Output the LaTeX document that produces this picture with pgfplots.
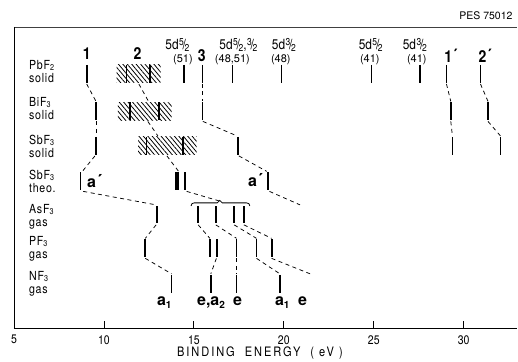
\documentclass[border=0pt]{standalone}
\usepackage{pgfplots}
\pgfplotsset{compat=1.18}
\usetikzlibrary{patterns.meta}
\usepackage{fontspec}
\setmainfont{TeX Gyre Heros}
\newfontfamily\cn[FakeStretch=0.85]{TeX Gyre Heros}
\newfontfamily\cnl[FakeStretch=0.85,LetterSpace=6]{TeX Gyre Heros}
\newfontfamily\cnw[FakeStretch=0.85,LetterSpace=15]{TeX Gyre Heros}
\newcommand{\fr}[2]{\kern0.03em\raisebox{0.6ex}{\fontsize{10}{10}\selectfont #1}\kern-0.08em{/}\kern-0.1em\raisebox{-0.3ex}{\fontsize{10}{10}\selectfont #2}}
\newcommand{\sub}[1]{\raisebox{-0.2ex}{\fontsize{8.5}{8.5}\selectfont #1}}
\newcommand{\sbb}[1]{\raisebox{-0.3ex}{\fontsize{10}{10}\selectfont #1}}
\newcommand{\pr}{\kern0.03em\raisebox{0.1ex}{´}}
\pgfplotsset{dl/.style={black, line width=0.75pt, dash pattern=on 4pt off 3.5pt},
  bars/.style={only marks, mark=|, mark size=9pt, mark options={line width=1.8pt, black}},
  hatch/.style={draw=none, pattern={Lines[angle=-50,distance=3.4pt,line width=0.8pt]}}}
\begin{document}
\begin{tikzpicture}
\begin{axis}[
  scale only axis, width=504pt, height=302pt,
  xmin=5, xmax=33, ymin=33, ymax=335,
  axis line style={draw=none},
  ytick=\empty,
  xtick={5,10,15,20,25,30},
  xtick pos=bottom,
  tick align=inside,
  major tick length=8pt,
  every tick/.style={black, line width=0.8pt},
  xticklabel style={font=\cn\fontsize{12.4}{12.4}\selectfont, yshift=-3pt},
  /pgf/number format/assume math mode=true,
  clip=false,
]
% frame
\addplot[black!75, line width=0.6pt] coordinates {(5,335) (32.98,335)};
\addplot[black, line width=0.7pt] coordinates {(5,335) (5,33)};
\addplot[black, line width=1.3pt] coordinates {(5,33) (32.98,33)};
% hatched bands
\addplot[hatch] coordinates {(10.7,279) (13.15,279) (13.15,297) (10.7,297)} -- cycle;
\addplot[hatch] coordinates {(10.78,241.5) (13.76,241.5) (13.76,259.5) (10.78,259.5)} -- cycle;
\addplot[hatch] coordinates {(11.9,207) (15.15,207) (15.15,225) (11.9,225)} -- cycle;
% bars
\addplot[bars] coordinates {(9.04,288) (11.25,288) (12.55,288) (14.44,288) (15.48,288) (17.15,288) (19.87,288) (24.87,288) (27.56,288) (29.04,288) (30.93,288)};
\addplot[bars] coordinates {(9.56,250.5) (11.44,250.5) (13.07,250.5) (15.48,250.5) (29.28,250.5) (31.35,250.5)};
\addplot[bars] coordinates {(9.56,216) (12.37,216) (14.41,216) (17.46,216) (29.37,216) (32.04,216)};
\addplot[bars] coordinates {(8.7,180.5) (14.5,180.5) (19.13,180.5)};
\addplot[only marks, mark=|, mark size=9pt, mark options={line width=4.5pt, black}] coordinates {(14.06,180.5)};
\addplot[bars, mark size=8.5pt] coordinates {(12.93,147) (15.24,147) (16.22,147) (17.24,147) (17.78,147)};
\addplot[bars] coordinates {(12.28,113.5) (15.89,113.5) (16.3,113.5) (17.37,113.5) (18.48,113.5) (19.32,113.5)};
\addplot[bars] coordinates {(13.76,78) (15.94,78) (17.37,78) (19.78,78)};
% brace
\addplot[black, line width=0.8pt] coordinates {(14.84,156) (14.9,158.3) (15.02,159) (16.3,159) (16.44,161.5) (16.58,159) (17.93,159) (18.05,158.3) (18.11,156)};
% dashed correlation lines
\addplot[dl] coordinates {(9.04,278) (9.56,260.5)};
\addplot[dl] coordinates {(9.56,240.5) (9.56,226)};
\addplot[dl] coordinates {(9.5,206) (8.8,190.5)};
\addplot[dl] coordinates {(8.85,170.5) (12.9,157)};
\addplot[dl] coordinates {(12.9,137) (12.3,123.5)};
\addplot[dl] coordinates {(12.3,103.5) (13.76,88)};
\addplot[dl] coordinates {(11.94,278) (12.48,260.5)};
\addplot[dl] coordinates {(12.44,240.5) (13.0,226)};
\addplot[dl] coordinates {(13.5,206) (14.15,190.5)};
\addplot[dl] coordinates {(14.6,170.5) (16.4,161)};
\addplot[dl] coordinates {(15.5,240.5) (17.4,226)};
\addplot[dl] coordinates {(17.5,206) (19.05,190.5)};
\addplot[dl] coordinates {(19.2,170.5) (20.9,157)};
\addplot[dl] coordinates {(15.48,278) (15.48,260.5)};
\addplot[dl] coordinates {(29.04,278) (29.28,260.5)};
\addplot[dl] coordinates {(29.28,240.5) (29.37,226)};
\addplot[dl] coordinates {(30.93,278) (31.35,260.5)};
\addplot[dl] coordinates {(31.35,240.5) (32.04,226)};
\addplot[dl] coordinates {(15.24,137) (15.89,123.5)};
\addplot[dl] coordinates {(16.22,137) (17.37,123.5)};
\addplot[dl] coordinates {(17.24,137) (18.48,123.5)};
\addplot[dl] coordinates {(17.78,137) (19.32,123.5)};
\addplot[dl] coordinates {(16.25,103.5) (15.94,88)};
\addplot[dl] coordinates {(17.37,103.5) (17.37,88)};
\addplot[dl] coordinates {(18.48,103.5) (19.78,88)};
\addplot[dl] coordinates {(19.32,103.5) (21.6,87)};
% top labels
\node[inner sep=0, font=\cn\bfseries\fontsize{16.5}{16.5}\selectfont] at (axis cs:9.04,308) {1};
\node[inner sep=0, font=\cn\bfseries\fontsize{16.5}{16.5}\selectfont] at (axis cs:11.86,308) {2};
\node[inner sep=0, font=\cn\bfseries\fontsize{16.5}{16.5}\selectfont] at (axis cs:15.44,306) {3};
\node[inner sep=0, font=\cn\bfseries\fontsize{16.5}{16.5}\selectfont] at (axis cs:29.28,306) {1\pr};
\node[inner sep=0, font=\cn\bfseries\fontsize{16.5}{16.5}\selectfont] at (axis cs:31.19,306) {2\pr};
\node[inner sep=0, font=\cn\fontsize{14}{14}\selectfont] at (axis cs:14.08,317) {5d\fr52};
\node[inner sep=0, font=\fontsize{11}{11}\selectfont] at (axis cs:14.39,302) {(51)};
\node[inner sep=0, font=\cn\fontsize{14}{14}\selectfont] at (axis cs:17.47,317) {5d\fr52,\fr32};
\node[inner sep=0, font=\fontsize{11}{11}\selectfont] at (axis cs:17.14,302) {(48,51)};
\node[inner sep=0, font=\cn\fontsize{14}{14}\selectfont] at (axis cs:20.0,317) {5d\fr32};
\node[inner sep=0, font=\fontsize{11}{11}\selectfont] at (axis cs:19.83,302) {(48)};
\node[inner sep=0, font=\cn\fontsize{14}{14}\selectfont] at (axis cs:24.83,317) {5d\fr52};
\node[inner sep=0, font=\fontsize{11}{11}\selectfont] at (axis cs:24.78,302) {(41)};
\node[inner sep=0, font=\cn\fontsize{14}{14}\selectfont] at (axis cs:27.28,317) {5d\fr32};
\node[inner sep=0, font=\fontsize{11}{11}\selectfont] at (axis cs:27.39,302) {(41)};
% row labels
\node[anchor=west, align=left, inner sep=0, font=\cnl\fontsize{12.5}{13}\selectfont] at (axis cs:5.83,290.5) {PbF\sub2\\solid};
\node[anchor=west, align=left, inner sep=0, font=\cnl\fontsize{12.5}{13}\selectfont] at (axis cs:5.83,253.5) {BiF\sub3\\solid};
\node[anchor=west, align=left, inner sep=0, font=\cnl\fontsize{12.5}{13}\selectfont] at (axis cs:5.83,215.5) {SbF\sub3\\solid};
\node[anchor=west, align=left, inner sep=0, font=\cnl\fontsize{12.5}{13}\selectfont] at (axis cs:5.83,180.5) {SbF\sub3\\theo.};
\node[anchor=west, align=left, inner sep=0, font=\cnl\fontsize{12.5}{13}\selectfont] at (axis cs:5.83,145.5) {AsF\sub3\\gas};
\node[anchor=west, align=left, inner sep=0, font=\cnl\fontsize{12.5}{13}\selectfont] at (axis cs:5.83,113.5) {PF\sub3\\gas};
\node[anchor=west, align=left, inner sep=0, font=\cnl\fontsize{12.5}{13}\selectfont] at (axis cs:5.83,78.5) {NF\sub3\\gas};
% symmetry labels
\node[anchor=west, inner sep=0, font=\bfseries\fontsize{16}{16}\selectfont] at (axis cs:9.06,181) {a\pr};
\node[anchor=west, inner sep=0, font=\bfseries\fontsize{16}{16}\selectfont] at (axis cs:18.0,182) {a\pr};
\node[anchor=base west, inner sep=0, font=\bfseries\fontsize{16}{16}\selectfont] at (axis cs:12.94,56) {a\sbb1};
\node[anchor=base west, inner sep=0, font=\bfseries\fontsize{16}{16}\selectfont] at (axis cs:15.17,56) {e,a\sbb2};
\node[anchor=base west, inner sep=0, font=\bfseries\fontsize{16}{16}\selectfont] at (axis cs:17.17,56) {e};
\node[anchor=base west, inner sep=0, font=\bfseries\fontsize{16}{16}\selectfont] at (axis cs:19.5,56) {a\sbb1};
\node[anchor=base west, inner sep=0, font=\bfseries\fontsize{16}{16}\selectfont] at (axis cs:20.78,56) {e};
% other text
\node[anchor=east, inner sep=0, font=\fontsize{10.5}{10.5}\selectfont] at (axis cs:32.72,346) {PES 75012};
\node[inner sep=0, font=\cnw\fontsize{13}{13}\selectfont] at (axis cs:18.67,9) {BINDING\ \ ENERGY\ \ ( eV )};
% bounding box
\path (axis cs:4.2222,0) rectangle (axis cs:33,362);
\end{axis}
\end{tikzpicture}
\end{document}
